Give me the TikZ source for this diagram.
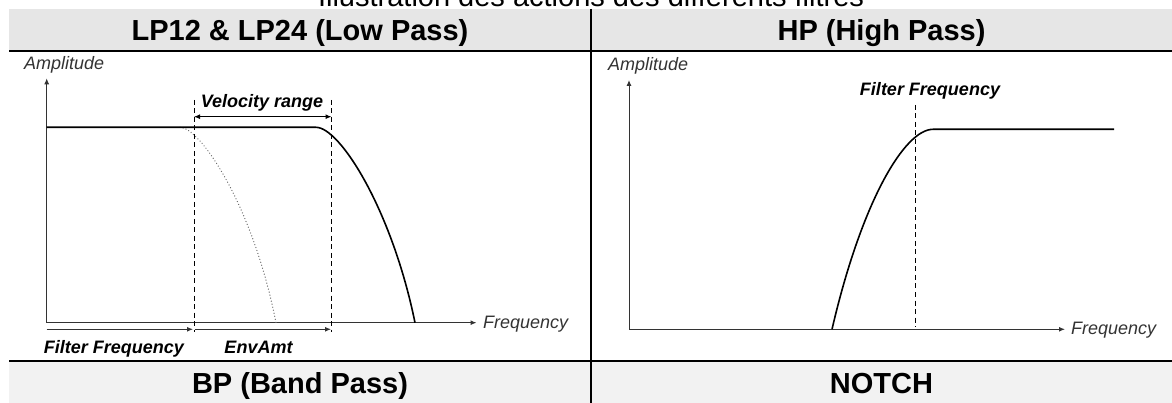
\documentclass[tikz,border=0pt]{standalone}
\usepackage{fontspec}
\setmainfont{Liberation Sans}
\usetikzlibrary{arrows.meta}
\definecolor{hdrgray}{RGB}{230,230,230}
\definecolor{botgray}{RGB}{242,242,242}
\definecolor{axisgray}{RGB}{51,51,51}
\definecolor{dotgray}{RGB}{110,110,110}
\begin{document}
\begin{tikzpicture}[x=1pt,y=-1pt,
  hdr/.style={font=\fontsize{29}{34}\selectfont\bfseries, anchor=base, inner sep=0pt},
  ttl/.style={font=\fontsize{29}{34}\selectfont, anchor=base, inner sep=0pt},
  axlbl/.style={font=\fontsize{18}{21}\selectfont\itshape, text=axisgray, anchor=base west, inner sep=0pt},
  anno/.style={font=\fontsize{18}{21}\selectfont\bfseries\itshape, anchor=base, inner sep=0pt},
  axisline/.style={draw=axisgray, line width=1pt},
  tipend/.style={-{Latex[length=6pt,width=5pt]}},
  tipboth/.style={{Latex[length=6pt,width=5pt]}-{Latex[length=6pt,width=5pt]}},
  curveline/.style={line width=1.6pt, draw=black},
  dashv/.style={line width=1pt, draw=black, dash pattern=on 5pt off 3.5pt},
  dotc/.style={line width=1.3pt, draw=dotgray, line cap=round, dash pattern=on 0.1pt off 3pt},
  rule/.style={line width=2pt, draw=black}]
\useasboundingbox (0,0) rectangle (1172,403);
\clip (0,0) rectangle (1172,403);
% title (cut at top)
\node[ttl] (title) at (591,6.5) {Illustration des actions des différents filtres};
% table
\fill[hdrgray] (9,9) rectangle (1172,51);
\fill[botgray] (9,361) rectangle (1172,403);
\draw[rule] (9,51) -- (1172,51);
\draw[rule] (9,361) -- (1172,361);
\draw[rule] (591,9) -- (591,403);
\node[hdr] (hlp) at (300,40.5) {LP12 \& LP24 (Low Pass)};
\node[hdr] (hhp) at (881.5,40.5) {HP (High Pass)};
\node[hdr] (hbp) at (300,393) {BP (Band Pass)};
\node[hdr] (hno) at (881.5,393) {NOTCH};
% ---- LP graph
\coordinate (lo) at (46.7,322.7);
\coordinate (ly) at (46.7,78.3);
\coordinate (lx) at (476.5,322.7);
\draw[axisline,tipend] (lo) -- (ly);
\draw[axisline,tipend] (lo) -- (lx);
\node[axlbl] (lamp) at (24,70) {Amplitude};
\node[axlbl] (lfreq) at (483,328) {Frequency};
\coordinate (d1t) at (194,100);
\coordinate (d1b) at (194,331.7);
\coordinate (d2t) at (331.5,100);
\coordinate (d2b) at (331.5,331.7);
\draw[dashv] (d1t) -- (d1b);
\draw[dashv] (d2t) -- (d2b);
\draw[dotc] (180,127.3) .. controls (200,127.3) and (253,205) .. (276,322.7);
\draw[curveline] (46.7,127.3) -- (316,127.3) .. controls (340,127.3) and (392,210) .. (415,322.7);
\coordinate (va) at (194,116.7);
\coordinate (vb) at (331.5,116.7);
\draw[tipboth, line width=1pt] (va) -- (vb);
\node[anno] (vel) at (262,108) {Velocity range};
\coordinate (fa) at (46.7,329.3);
\coordinate (fb) at (193,329.3);
\coordinate (ea) at (195,329.3);
\coordinate (eb) at (331,329.3);
\draw[axisline,tipend] (fa) -- (fb);
\draw[axisline,tipend] (ea) -- (eb);
\node[anno] (lff) at (114,353.5) {Filter Frequency};
\node[anno] (env) at (258.5,353.5) {EnvAmt};
% ---- HP graph
\coordinate (ho) at (629,329.3);
\coordinate (hy) at (629,80);
\coordinate (hx) at (1065,329.3);
\draw[axisline,tipend] (ho) -- (hy);
\draw[axisline,tipend] (ho) -- (hx);
\node[axlbl] (hamp) at (608,71) {Amplitude};
\node[axlbl] (hfreq) at (1071,334.5) {Frequency};
\draw[dashv] (915,105) -- (915,327);
\draw[curveline] (1114,129.3) -- (933,129.3) .. controls (905,129.3) and (862,200) .. (832,329.3);
\node[anno] (hff) at (930,96) {Filter Frequency};
\end{tikzpicture}
\end{document}
